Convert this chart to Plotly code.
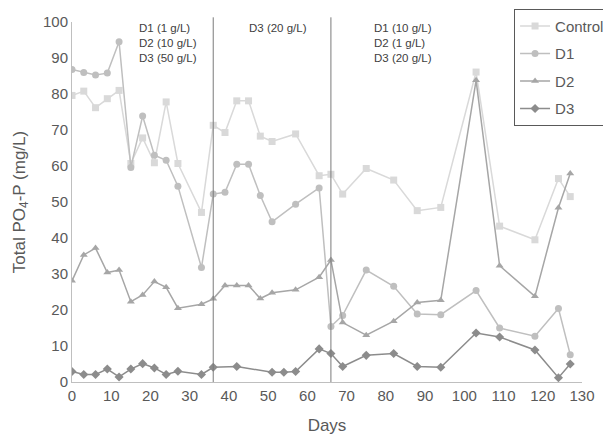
import plotly.graph_objects as go

control_days = [0, 3, 6, 9, 12, 15, 18, 21, 24, 27, 33, 36, 39, 42, 45, 48, 51, 57, 63, 66, 69, 75, 82, 88, 94, 103, 109, 118, 124, 127]
control = [79.6, 80.8, 76.2, 78.7, 81.0, 60.7, 67.8, 60.9, 77.8, 60.7, 47.1, 71.3, 69.3, 78.1, 78.1, 68.3, 66.8, 68.9, 57.3, 57.7, 52.2, 59.3, 56.1, 47.6, 48.5, 86.1, 43.3, 39.5, 56.5, 51.5]

d1_days = control_days
d1 = [86.8, 86.0, 85.3, 85.8, 94.5, 59.6, 73.9, 63.0, 61.6, 54.4, 31.8, 52.2, 52.7, 60.5, 60.5, 51.8, 44.5, 49.4, 53.9, 15.4, 18.5, 31.1, 26.6, 18.9, 18.7, 25.4, 15.0, 12.7, 20.4, 7.6]

d2_days = control_days
d2 = [28.1, 35.3, 37.2, 30.4, 31.1, 22.3, 24.2, 27.9, 26.3, 20.5, 21.6, 23.1, 26.8, 26.8, 26.8, 23.2, 24.8, 25.6, 29.1, 33.9, 16.5, 13.0, 16.9, 22.1, 22.7, 83.8, 32.3, 23.8, 48.4, 57.9]

d3_days = [0, 3, 6, 9, 12, 15, 18, 21, 24, 27, 33, 36, 42, 51, 54, 57, 63, 66, 69, 75, 82, 88, 94, 103, 109, 118, 124, 127]
d3 = [2.9, 2.1, 2.1, 3.6, 1.4, 3.6, 5.1, 3.9, 2.1, 3.0, 2.1, 4.1, 4.3, 2.7, 2.7, 2.9, 9.2, 7.9, 4.3, 7.4, 7.9, 4.3, 4.1, 13.6, 12.5, 8.9, 1.2, 5.0]

phase_lines = [36, 66]
phase_labels = ["D1 (1 g/L)<br>D2 (10 g/L)<br>D3 (50 g/L)", "D3 (20 g/L)", "D1 (10 g/L)<br>D2 (1 g/L)<br>D3 (20 g/L)"]
phase_label_x = [16.6, 44.6, 76.5]

series = [
    ("Control", control_days, control, "#d9d9d9", "square"),
    ("D1", d1_days, d1, "#bfbfbf", "circle"),
    ("D2", d2_days, d2, "#a6a6a6", "triangle-up"),
    ("D3", d3_days, d3, "#8c8c8c", "diamond"),
]

fig = go.Figure()
for i, (name, xs, ys, col, sym) in enumerate(series):
    fig.add_trace(go.Scatter(
        x=xs, y=ys, name=name, mode="lines+markers",
        line=dict(color=col, width=1.5),
        marker=dict(symbol=sym, size=7, color=col),
        legendgroup=name,
    ))

for xv in phase_lines:
    fig.add_shape(type="line", xref="x", yref="paper", x0=xv, x1=xv, y0=0, y1=1.013,
                  line=dict(color="#7a7a7a", width=1))

for tx, xv in zip(phase_labels, phase_label_x):
    fig.add_annotation(text=tx, x=xv, xref="x", y=1.005, yref="paper",
                       xanchor="left", yanchor="top", align="left", showarrow=False,
                       font=dict(family="Liberation Sans, Arial", size=11.5, color="#404040"))

# page body has an 8px default margin, so the figure is sized to fit the window
fig.update_layout(
    width=603, height=427,
    margin=dict(l=64, r=29, t=14, b=53, autoexpand=False),
    plot_bgcolor="white", paper_bgcolor="white",
    font=dict(family="Liberation Sans, Arial", color="#595959"),
    showlegend=True,
    legend=dict(x=1.055, xanchor="right", y=1.037, yanchor="top",
                bordercolor="#595959", borderwidth=1, bgcolor="white",
                font=dict(size=15, color="#595959"), tracegroupgap=5,
                itemwidth=30),
    xaxis=dict(range=[0, 130], tickvals=list(range(0, 131, 10)), showgrid=False,
               showline=True, linecolor="#bfbfbf", linewidth=1, zeroline=False,
               ticks="", tickfont=dict(size=15, color="#595959"), automargin=False,
               title=dict(text="Days", font=dict(size=17, color="#595959"), standoff=17)),
    yaxis=dict(range=[0, 100], tickvals=list(range(0, 101, 10)), showgrid=False,
               showline=True, linecolor="#bfbfbf", linewidth=1, zeroline=False,
               ticks="", tickfont=dict(size=15, color="#595959"), automargin=False,
               title=dict(text="Total PO<sub>4</sub>-P (mg/L)", font=dict(size=17, color="#595959"), standoff=13)),
)

fig.write_html("out.html")
